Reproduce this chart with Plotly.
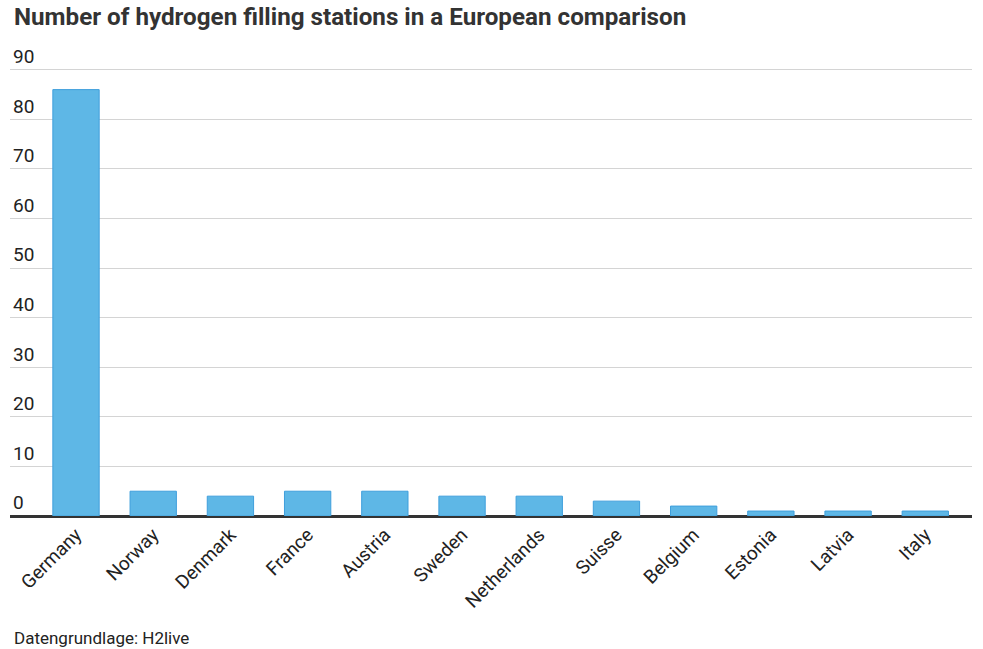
import plotly.graph_objects as go

countries = ["Germany", "Norway", "Denmark", "France", "Austria", "Sweden",
             "Netherlands", "Suisse", "Belgium", "Estonia", "Latvia", "Italy"]
stations = [86, 5, 4, 5, 5, 4, 4, 3, 2, 1, 1, 1]
y_ticks = [0, 10, 20, 30, 40, 50, 60, 70, 80, 90]

PLOT_H = 471  # pixel height of plot area (0 at y=516, 95 at y=45)

fig = go.Figure()
fig.add_trace(go.Bar(
    x=countries, y=stations,
    marker=dict(color="#5eb7e6", line=dict(color="#3f9fdc", width=1)),
    width=0.6,
))

fig.update_layout(
    width=983, height=649,
    margin=dict(l=10, r=11, t=45, b=133, autoexpand=False),
    paper_bgcolor="white", plot_bgcolor="white",
    showlegend=False,
    font=dict(family="Roboto", color="#333333"),
    xaxis=dict(
        type="category", range=[-0.855, 11.605], tickangle=-45,
        tickfont=dict(size=19, color="#222222", family="Roboto"),
        showgrid=False, showline=False, ticks="", automargin=False,
        ticklabelstandoff=3,
    ),
    yaxis=dict(
        range=[0, 95], tickvals=y_ticks,
        ticklabelposition="inside top",
        tickfont=dict(size=19, color="#222222", family="Roboto"),
        showgrid=True, gridcolor="#d4d4d4", gridwidth=1,
        zeroline=True, zerolinecolor="#333333", zerolinewidth=3,
        showline=False, ticks="", automargin=False,
    ),
    annotations=[
        dict(text="<b>Number of hydrogen filling stations in a European comparison</b>",
             x=0, xref="paper", xanchor="left", xshift=2,
             y=(516 - 17) / PLOT_H, yref="paper", yanchor="middle",
             showarrow=False, font=dict(size=24.2, color="#333333", family="Roboto")),
        dict(text="Datengrundlage: H2live", x=0, xref="paper", xanchor="left", xshift=2,
             y=(516 - 638) / PLOT_H, yref="paper", yanchor="middle",
             showarrow=False, font=dict(size=17, color="#222222", family="Roboto")),
    ],
)

fig.write_html("out.html", config={"displayModeBar": False},
               post_script="document.body.style.margin='0';")
